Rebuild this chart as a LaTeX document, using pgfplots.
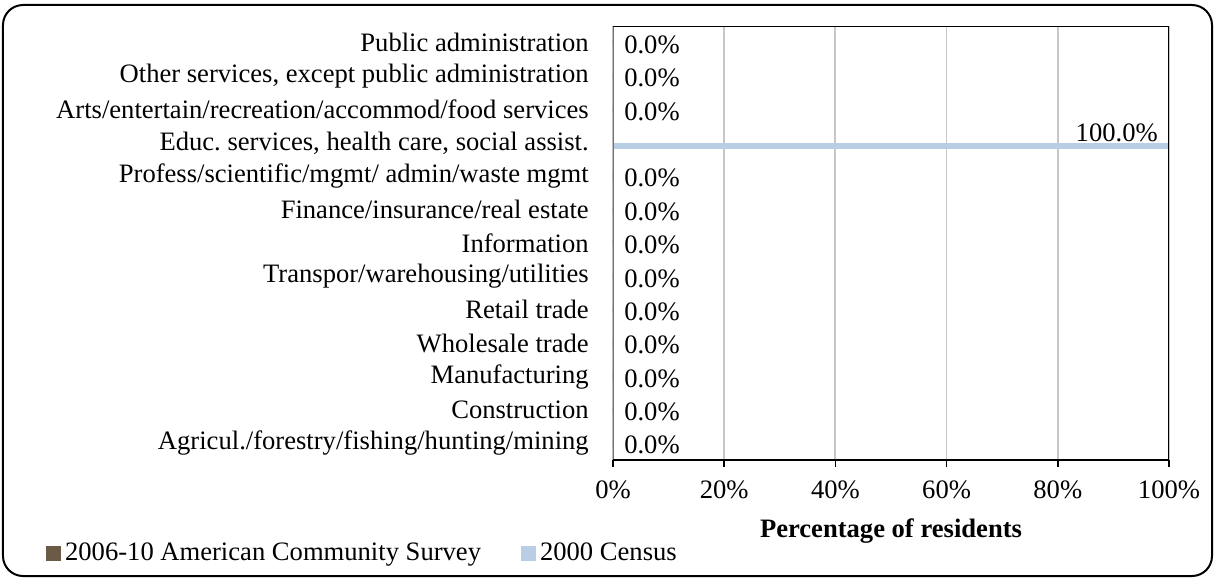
\documentclass[border=0pt]{standalone}
\usepackage{fontspec}
\setmainfont{Liberation Serif}
\usepackage{pgfplots}
\pgfplotsset{compat=1.18}
\definecolor{acs}{RGB}{107,90,70}
\definecolor{census}{RGB}{185,205,229}
\begin{document}
\frenchspacing
\fontsize{13.3pt}{15.5pt}\selectfont
\begin{tikzpicture}
\useasboundingbox (-306.5pt,-59.5pt) rectangle (301pt,230pt);
\begin{axis}[
  at={(0,0)}, anchor=south west,
  scale only axis, width=278pt, height=217pt,
  xbar, bar width=3pt,
  xmin=0, xmax=100, ymin=-0.5, ymax=12.5,
  ytick={0,...,12},
  yticklabels={
    Agricul./forestry/fishing/hunting/mining,
    Construction,
    Manufacturing,
    Wholesale trade,
    Retail trade,
    Transpor/warehousing/utilities,
    Information,
    Finance/insurance/real estate,
    Profess/scientific/mgmt/ admin/waste mgmt,
    {Educ. services, health care, social assist.},
    Arts/entertain/recreation/accommod/food services,
    {Other services, except public administration},
    Public administration},
  ytick style={draw=none},
  yticklabel style={xshift=-4pt},
  xtick={0,20,...,100},
  xticklabel={\pgfmathprintnumber{\tick}\%},
  xticklabel style={yshift=-2.5pt},
  xtick pos=lower, xtick align=outside,
  major tick length=3.5pt,
  x tick style={black, line width=0.8pt},
  xmajorgrids, major grid style={black!22, line width=0.9pt},
  axis line style={draw=none},
  /pgf/number format/assume math mode=true,
  xlabel={\bfseries Percentage of residents},
  xlabel style={at={(rel axis cs:0.5,0)}, anchor=center, yshift=-35.5pt},
  legend columns=2,
  legend style={draw=none, fill=none, at={(rel axis cs:-1.031,-0.216)}, anchor=west,
    /tikz/every even column/.append style={column sep=18pt}},
  legend image code/.code={\fill[#1,draw=none] (0pt,-3.75pt) rectangle (7.5pt,3.75pt);},
  nodes near coords={\pgfmathprintnumber[fixed,fixed zerofill,precision=1]{\pgfplotspointmeta}\%},
]
% 2006-10 American Community Survey
\addplot[fill=acs, draw=none, bar shift=0pt,
  nodes near coords style={anchor=west, xshift=1pt, yshift=-1pt, text=black}]
  coordinates {(0,0) (0,1) (0,2) (0,3) (0,4) (0,5) (0,6) (0,7) (0,8)
               (0,10) (0,11) (0,12)};
% 2000 Census
\addplot[fill=census, draw=none, bar shift=-1.5pt,
  nodes near coords style={anchor=base east, yshift=2pt, xshift=-1pt, text=black}]
  coordinates {(100,9)};
\legend{2006-10 American Community Survey, 2000 Census}
\draw[black!55, line width=1pt] (axis cs:0,-0.5) -- (axis cs:0,12.5);
\draw[black, line width=1pt] (axis cs:0,12.5) -- (axis cs:100,12.5) -- (axis cs:100,-0.5) -- (axis cs:0,-0.5);
\end{axis}
\draw[black, line width=1pt, rounded corners=10pt] (-305pt,-58pt) rectangle (299.5pt,227.5pt);
\end{tikzpicture}
\end{document}
